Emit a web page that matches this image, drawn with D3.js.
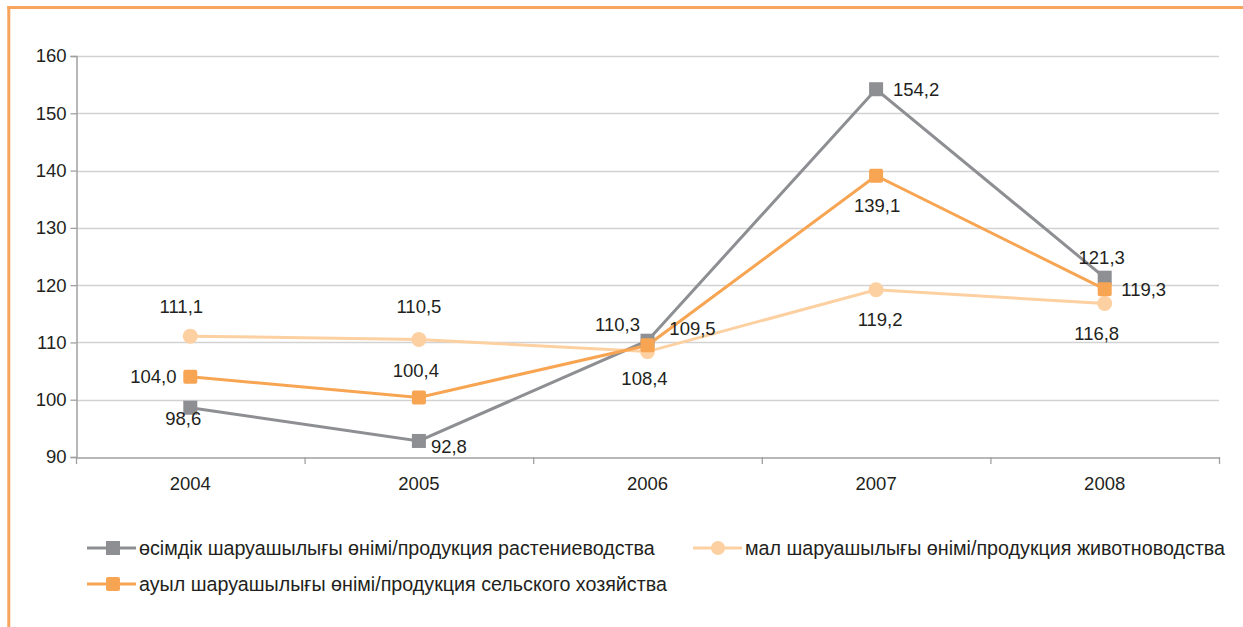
<!DOCTYPE html>
<html><head><meta charset="utf-8">
<script src="https://cdn.jsdelivr.net/npm/d3@7"></script>
<style>body{margin:0;background:#fff;}svg{display:block;font-family:"Liberation Sans",Arial,sans-serif;}</style>
</head><body><svg id="c" width="1243" height="627"></svg>
<script>
const years = ["2004","2005","2006","2007","2008"];
const crop = [98.6, 92.8, 110.3, 154.2, 121.3];
const livestock = [111.1, 110.5, 108.4, 119.2, 116.8];
const agri = [104.0, 100.4, 109.5, 139.1, 119.3];
const yTicks = [90,100,110,120,130,140,150,160];
const names = ["өсімдік шаруашылығы өнімі/продукция растениеводства","мал шаруашылығы өнімі/продукция животноводства","ауыл шаруашылығы өнімі/продукция сельского хозяйства"];

const FONT = "Liberation Sans, Arial, sans-serif";
const NUM = 18.5;
const svg = d3.select("#c");
// frame
svg.append("line").attr("x1",8.8).attr("x2",8.8).attr("y1",6).attr("y2",627).attr("stroke","#f7a55d").attr("stroke-width",3);
svg.append("line").attr("x1",7.3).attr("x2",1243).attr("y1",7.5).attr("y2",7.5).attr("stroke","#f7a55d").attr("stroke-width",3);

const x = d3.scaleBand().domain(years).range([76,1219]);
const y = d3.scaleLinear().domain([90,160]).range([457,56]);
const cx = d => x(d)+x.bandwidth()/2;

// grid
svg.append("g").selectAll("line").data(yTicks.slice(1)).join("line")
  .attr("x1",76).attr("x2",1219).attr("y1",d=>Math.round(y(d))+0.5).attr("y2",d=>Math.round(y(d))+0.5)
  .attr("stroke","#d2d2d2").attr("stroke-width",1.3);

// y axis
const ya = svg.append("g").attr("transform","translate(76.5,0)")
  .call(d3.axisLeft(y).tickValues(yTicks).tickSize(6).tickPadding(4));
ya.select(".domain").attr("stroke","#a0a0a0").attr("stroke-width",1.5);
ya.selectAll(".tick line").attr("stroke","#a0a0a0").attr("stroke-width",1.3);
ya.selectAll("text").attr("font-size",NUM).attr("fill","#231f20").attr("font-family",FONT);

// x axis
const xa = svg.append("g").attr("transform","translate(0,457.5)")
  .call(d3.axisBottom(x).tickSize(0).tickPadding(19));
xa.select(".domain").attr("stroke","#a0a0a0").attr("stroke-width",1.5);
xa.selectAll("text").attr("font-size",NUM).attr("fill","#231f20").attr("font-family",FONT);
svg.append("g").selectAll("line").data(d3.range(6)).join("line")
  .attr("x1",i=>76.5+i*x.bandwidth()).attr("x2",i=>76.5+i*x.bandwidth())
  .attr("y1",457).attr("y2",464).attr("stroke","#a0a0a0").attr("stroke-width",1.3);

const cropS = {vals:crop, color:"#8e8f93", shape:"square",
   off:[[-7,11],[30,6],[-30,-16],[40,0],[-3,-20]]};
const liveS = {vals:livestock, color:"#fdd0a1", shape:"circle",
   off:[[-9,-30],[0,-33],[-3,27],[4,30],[-8,30]]};
const agriS = {vals:agri, color:"#f7a553", shape:"square",
   off:[[-37,0],[-3,-27],[45,-17],[1,30],[39,0]]};

const line = d3.line().x((d,i)=>cx(years[i])).y(d=>y(d));
[cropS, liveS, agriS].forEach(s=>{
  svg.append("path").datum(s.vals).attr("d",line).attr("fill","none").attr("stroke",s.color).attr("stroke-width",3);
});
[cropS, liveS, agriS].forEach(s=>{
  const g = svg.append("g");
  s.vals.forEach((v,i)=>{
    const px=cx(years[i]), py=y(v);
    if(s.shape==="circle") g.append("circle").attr("cx",px).attr("cy",py).attr("r",7.5).attr("fill",s.color);
    else g.append("rect").attr("x",px-7).attr("y",py-7).attr("width",14).attr("height",14).attr("rx", s===agriS?2:0).attr("fill",s.color);
  });
});
[cropS, liveS, agriS].forEach(s=>{
  s.vals.forEach((v,i)=>{
    svg.append("text").attr("x",cx(years[i])+s.off[i][0]).attr("y",y(v)+s.off[i][1]).attr("dy","0.35em")
      .attr("text-anchor","middle").attr("font-size",NUM).attr("fill","#231f20")
      .text(v.toFixed(1).replace(".",","));
  });
});

// legend
const leg = [
  {name:names[0], s:cropS, x:87, y:548},
  {name:names[1], s:liveS, x:693, y:548},
  {name:names[2], s:agriS, x:87, y:584}
];
leg.forEach(l=>{
  const g = svg.append("g");
  g.append("line").attr("x1",l.x).attr("x2",l.x+49).attr("y1",l.y).attr("y2",l.y).attr("stroke",l.s.color).attr("stroke-width",3);
  if(l.s.shape==="circle") g.append("circle").attr("cx",l.x+25).attr("cy",l.y).attr("r",7).attr("fill",l.s.color);
  else g.append("rect").attr("x",l.x+19).attr("y",l.y-7).attr("width",14).attr("height",14).attr("rx",l.s===agriS?2:0).attr("fill",l.s.color);
  g.append("text").attr("x",l.x+52).attr("y",l.y).attr("dy","0.35em").attr("font-size",19.7).attr("fill","#231f20").text(l.name);
});
</script></body></html>
